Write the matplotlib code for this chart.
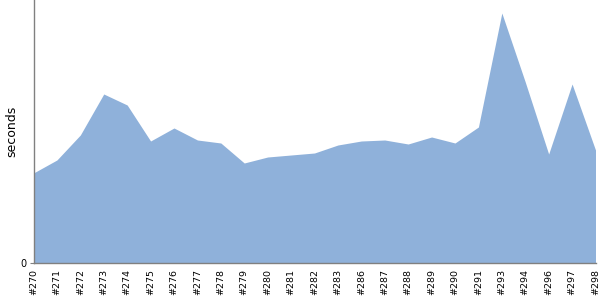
import matplotlib
matplotlib.use("Agg")
import matplotlib.pyplot as plt

builds = ["#270", "#271", "#272", "#273", "#274", "#275", "#276", "#277", "#278",
          "#279", "#280", "#281", "#282", "#283", "#286", "#287", "#288", "#289",
          "#290", "#291", "#293", "#294", "#296", "#297", "#298"]
seconds = [90, 103, 128, 169, 158, 122, 135, 123, 120, 100, 106, 108, 110, 118,
           122, 123, 119, 126, 120, 136, 250, 181, 109, 179, 113]

fig = plt.figure(figsize=(6, 3), dpi=100)
ax = fig.add_axes([33.5 / 600, 37 / 300, 562 / 600, 263 / 300])
x = list(range(len(builds)))
ax.fill_between(x, seconds, 0, color="#8FB1DA", linewidth=0)
ax.set_xlim(0, len(builds) - 1)
ax.set_ylim(0, 263)
ax.set_xticks(x)
ax.set_xticklabels(builds, rotation=90, fontsize=6.8)
ax.set_yticks([0])
ax.set_yticklabels(["0"], fontsize=7)
ax.tick_params(axis="x", length=0, pad=4)
ax.tick_params(axis="y", length=3, color="#808080", pad=2)
ax.set_ylabel("seconds", fontsize=9, labelpad=1.5)
for s in ["top", "right"]:
    ax.spines[s].set_visible(False)
for s in ["left", "bottom"]:
    ax.spines[s].set_color("#808080")
    ax.spines[s].set_linewidth(1)
fig.savefig("out.png", dpi=100)
